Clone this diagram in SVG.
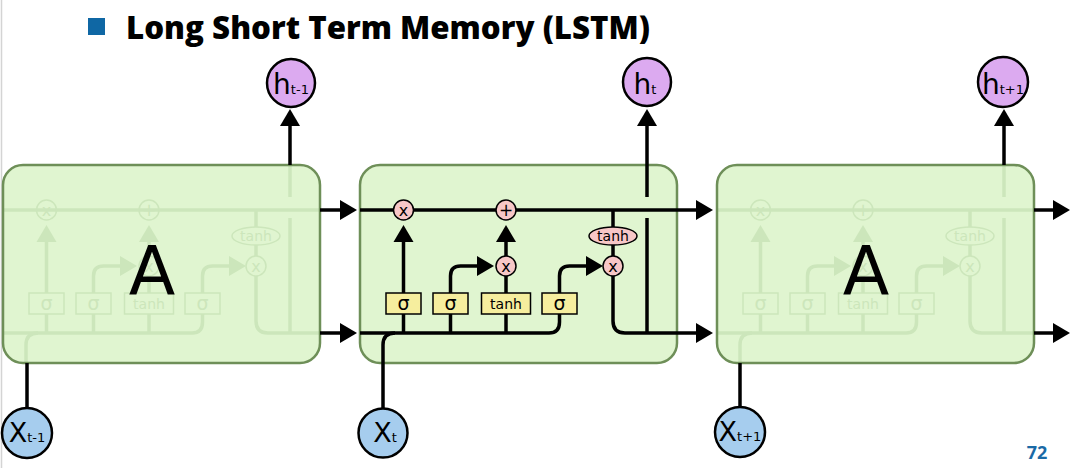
<svg xmlns="http://www.w3.org/2000/svg" xmlns:xlink="http://www.w3.org/1999/xlink" width="1070" height="468" viewBox="0 0 1070 468">
<style>
.box{fill:#e0f5d0;stroke:none}
.boxs{fill:none;stroke:#6e8f58;stroke-width:2.5}
.ln{fill:none;stroke:#000;stroke-width:3.5}
.fl{fill:none;stroke:currentColor;stroke-width:3.5}
.fo{fill:none;stroke:currentColor;stroke-width:1.5}
.ft{fill:currentColor;font-family:"DejaVu Sans",sans-serif}
.op{fill:#f7c7c7;stroke:#000;stroke-width:1.5}
.gate{fill:#f6ee9e;stroke:#000;stroke-width:1.5}
.t{font-family:"DejaVu Sans",sans-serif;fill:#000}
.hc{fill:#dcaaf0;stroke:#000;stroke-width:2.5}
.xc{fill:#a6cdee;stroke:#000;stroke-width:2.5}
</style>
<defs>
<marker id="ah" markerUnits="userSpaceOnUse" markerWidth="18" markerHeight="20" refX="0" refY="10" orient="auto" overflow="visible">
<path d="M0,0 L17,10 L0,20 z" fill="#000"/>
</marker>
<g id="faded">
<path class="fl" d="M0,210 H317"/>
<path class="fl" d="M0,333 H189 Q199.5,333 199.5,322 V314"/>
<path class="fl" d="M23,363 V345 Q23,333 35,333"/>
<path class="fl" d="M43.5,333 V314 M90.5,333 V314 M146,333 V314"/>
<path class="fl" d="M43.5,293 V242"/>
<path d="M33.5,242 L53.5,242 L43.5,225 z" fill="currentColor"/>
<path class="fl" d="M90.5,293 V276 Q90.5,266 100.5,266 H117"/>
<path d="M117,256 L117,276 L134,266 z" fill="currentColor"/>
<path class="fl" d="M146,293 V276 M146,256 V242"/>
<path d="M136,242 L156,242 L146,225 z" fill="currentColor"/>
<path class="fl" d="M199.5,293 V276 Q199.5,266 209.5,266 H226"/>
<path d="M226,256 L226,276 L243,266 z" fill="currentColor"/>
<path class="fl" d="M253,210 V227 M253,245 V256"/>
<path class="fl" d="M253,276 V321 Q253,333 265,333 H317"/>
<path class="fl" d="M287,333 V218 M287,197 V165"/>
<circle class="fo" cx="43.5" cy="210" r="10"/>
<circle class="fo" cx="146" cy="210" r="10"/>
<circle class="fo" cx="146" cy="266" r="10"/>
<circle class="fo" cx="253" cy="266" r="10"/>
<ellipse class="fo" cx="253" cy="236" rx="24" ry="9"/>
<rect class="fo" x="26" y="293" width="35" height="21"/>
<rect class="fo" x="73" y="293" width="35" height="21"/>
<rect class="fo" x="121.5" y="293" width="49" height="21"/>
<rect class="fo" x="182" y="293" width="35" height="21"/>
<text class="ft" x="43.5" y="215.5" font-size="16" text-anchor="middle">x</text>
<text class="ft" x="146" y="216" font-size="17" text-anchor="middle">+</text>
<text class="ft" x="146" y="271.5" font-size="16" text-anchor="middle">x</text>
<text class="ft" x="253" y="271.5" font-size="16" text-anchor="middle">x</text>
<text class="ft" x="253" y="241" font-size="14" text-anchor="middle">tanh</text>
<text class="ft" x="43.5" y="310" font-size="19" text-anchor="middle">σ</text>
<text class="ft" x="90.5" y="310" font-size="19" text-anchor="middle">σ</text>
<text class="ft" x="146" y="308.5" font-size="14" text-anchor="middle">tanh</text>
<text class="ft" x="199.5" y="310" font-size="19" text-anchor="middle">σ</text>
</g>
</defs>
<rect x="0" y="0" width="1070" height="468" fill="#fff"/>
<line x1="1.5" y1="0" x2="1.5" y2="468" stroke="#d4d4d4" stroke-width="1.5"/>

<g id="title">
<rect x="88" y="18" width="17" height="17" fill="#0f67a4"/>
<text x="126" y="39" font-family="Open Sans, sans-serif" font-weight="800" font-size="32" textLength="524" lengthAdjust="spacingAndGlyphs" fill="#000">Long Short Term Memory (LSTM)</text>
</g>

<g id="cell-left">
<rect class="box" x="3" y="165" width="317" height="198" rx="20"/>
<use xlink:href="#faded" href="#faded" transform="translate(3,0)" color="#cce6bb"/>
<rect class="boxs" x="3" y="165" width="317" height="198" rx="20"/>
<text class="t" x="152" y="295" font-size="68" text-anchor="middle">A</text>
</g>

<g id="cell-middle">
<rect class="box" x="360" y="165" width="317" height="198" rx="20"/>
<rect class="boxs" x="360" y="165" width="317" height="198" rx="20"/>
<g transform="translate(360,0)">
<path class="ln" d="M0,210 H336" marker-end="url(#ah)"/>
<path class="ln" d="M0,333 H189 Q199.5,333 199.5,322 V314"/>
<path class="ln" d="M43.5,333 V314 M90.5,333 V314 M146,333 V314"/>
<path class="ln" d="M43.5,293 V242" marker-end="url(#ah)"/>
<path class="ln" d="M90.5,293 V276 Q90.5,266 100.5,266 H117" marker-end="url(#ah)"/>
<path class="ln" d="M146,293 V276"/>
<path class="ln" d="M146,256 V242" marker-end="url(#ah)"/>
<path class="ln" d="M199.5,293 V276 Q199.5,266 209.5,266 H226" marker-end="url(#ah)"/>
<path class="ln" d="M253,210 V227 M253,245 V256"/>
<path class="ln" d="M253,276 V321 Q253,333 265,333 H336" marker-end="url(#ah)"/>
<path class="ln" d="M287,333 V218"/>
<circle class="op" cx="43.5" cy="210" r="10"/>
<circle class="op" cx="146" cy="210" r="10"/>
<circle class="op" cx="146" cy="266" r="10"/>
<circle class="op" cx="253" cy="266" r="10"/>
<ellipse class="op" cx="253" cy="236" rx="24" ry="9"/>
<rect class="gate" x="26" y="293" width="35" height="21"/>
<rect class="gate" x="73" y="293" width="35" height="21"/>
<rect class="gate" x="121.5" y="293" width="49" height="21"/>
<rect class="gate" x="182" y="293" width="35" height="21"/>
<text class="t" x="43.5" y="215.5" font-size="16" text-anchor="middle">x</text>
<text class="t" x="146" y="216" font-size="17" text-anchor="middle">+</text>
<text class="t" x="146" y="271.5" font-size="16" text-anchor="middle">x</text>
<text class="t" x="253" y="271.5" font-size="16" text-anchor="middle">x</text>
<text class="t" x="253" y="241" font-size="14" text-anchor="middle">tanh</text>
<text class="t" x="43.5" y="310" font-size="19" text-anchor="middle">σ</text>
<text class="t" x="90.5" y="310" font-size="19" text-anchor="middle">σ</text>
<text class="t" x="146" y="308.5" font-size="14" text-anchor="middle">tanh</text>
<text class="t" x="199.5" y="310" font-size="19" text-anchor="middle">σ</text>
</g>
</g>

<g id="cell-right">
<rect class="box" x="717" y="165" width="317" height="198" rx="20"/>
<use xlink:href="#faded" href="#faded" transform="translate(717,0)" color="#cce6bb"/>
<rect class="boxs" x="717" y="165" width="317" height="198" rx="20"/>
<text class="t" x="866" y="295" font-size="68" text-anchor="middle">A</text>
</g>

<g id="connectors">
<path class="ln" d="M320,210 H340" marker-end="url(#ah)"/>
<path class="ln" d="M320,333 H340" marker-end="url(#ah)"/>
<path class="ln" d="M1034,210 H1053" marker-end="url(#ah)"/>
<path class="ln" d="M1034,333 H1053" marker-end="url(#ah)"/>
<path class="ln" d="M290,165 V126" marker-end="url(#ah)"/>
<path class="ln" d="M647,197 V126" marker-end="url(#ah)"/>
<path class="ln" d="M1004,165 V126" marker-end="url(#ah)"/>
<path class="ln" d="M27,363 V408"/>
<path class="ln" d="M383,408 V345 Q383,333 395,333"/>
<path class="ln" d="M740,363 V407"/>
</g>

<g id="h-prev"><circle class="hc" cx="291" cy="83" r="24"/><text class="t" x="291" y="94" font-size="28" text-anchor="middle">h<tspan font-size="13">t-1</tspan></text></g>
<g id="h-t"><circle class="hc" cx="647" cy="82" r="24"/><text class="t" x="645" y="94" font-size="28" text-anchor="middle">h<tspan font-size="13">t</tspan></text></g>
<g id="h-next"><circle class="hc" cx="1003" cy="82" r="25"/><text class="t" x="1003" y="94" font-size="28" text-anchor="middle">h<tspan font-size="13">t+1</tspan></text></g>

<g id="x-prev"><circle class="xc" cx="27" cy="433" r="25"/><text class="t" x="27" y="442" font-size="27" text-anchor="middle">X<tspan font-size="13">t-1</tspan></text></g>
<g id="x-t"><circle class="xc" cx="383" cy="433" r="24.5"/><text class="t" x="385" y="442" font-size="27" text-anchor="middle">X<tspan font-size="13">t</tspan></text></g>
<g id="x-next"><circle class="xc" cx="740" cy="432" r="25"/><text class="t" x="740" y="441" font-size="27" text-anchor="middle">X<tspan font-size="13">t+1</tspan></text></g>

<text x="1037" y="459" font-family="Open Sans, sans-serif" font-weight="700" font-size="18" fill="#1a6aa6" text-anchor="middle">72</text>
</svg>
